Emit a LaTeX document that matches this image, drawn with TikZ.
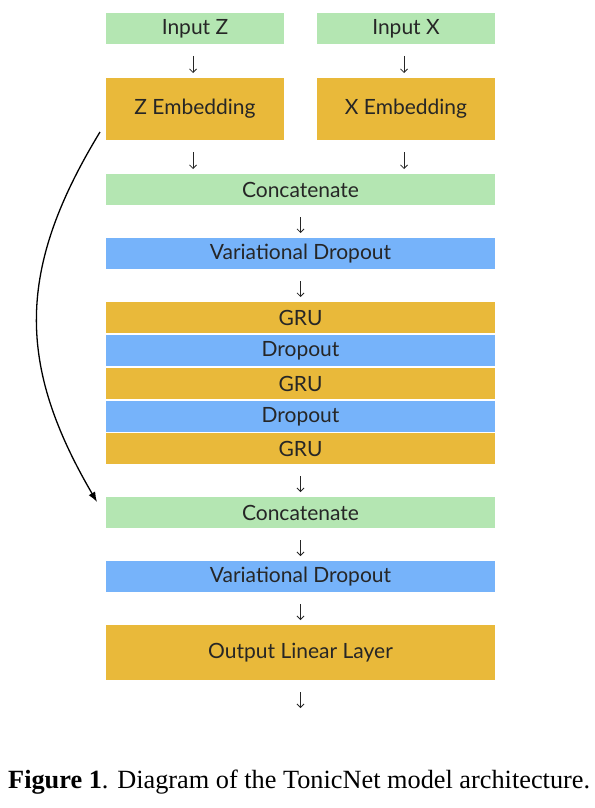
\documentclass[tikz,border=0pt]{standalone}
\usepackage{fontspec}
\setmainfont{Liberation Serif}
\newfontfamily\boxfont{Lato}
\usetikzlibrary{arrows.meta}
\definecolor{cgreen}{HTML}{B4E6B2}
\definecolor{corange}{HTML}{E9B93A}
\definecolor{cblue}{HTML}{76B3FA}
\begin{document}
\begin{tikzpicture}[x=1pt,y=-1pt,
  blk/.style={anchor=north west,inner sep=0pt,outer sep=0pt,
    font=\boxfont\fontsize{21}{23}\selectfont,text=black!85},
  gbox/.style={blk,fill=cgreen},
  obox/.style={blk,fill=corange},
  bbox/.style={blk,fill=cblue},
  narrow/.style={minimum width=178pt},
  wide/.style={minimum width=389pt},
  arr/.style={line width=0.8pt,draw=black!85,-{Straight Barb[length=3.5pt,width=7pt]},
    shorten <=12pt,shorten >=5pt},
  skip/.style={line width=1.3pt,-{Latex[length=10pt,width=7.5pt]}}]
\useasboundingbox (0,0) rectangle (594,808);
% top row
\node[gbox,narrow,minimum height=31pt] (inz) at (106,13) {Input Z};
\node[gbox,narrow,minimum height=31pt] (inx) at (317,13) {Input X};
\node[obox,narrow,minimum height=62pt] (zemb) at (106,78) {Z Embedding};
\node[obox,narrow,minimum height=62pt] (xemb) at (317,78) {X Embedding};
% main column
\node[gbox,wide,minimum height=31pt] (cat1) at (106,174) {Concatenate};
\node[bbox,wide,minimum height=31pt] (vd1) at (106,238) {Variational Dropout};
\node[obox,wide,minimum height=31pt] (gru1) at (106,302) {GRU};
\node[bbox,wide,minimum height=31pt] (do1) at (106,335) {Dropout};
\node[obox,wide,minimum height=31pt] (gru2) at (106,368) {GRU};
\node[bbox,wide,minimum height=31pt] (do2) at (106,401) {Dropout};
\node[obox,wide,minimum height=31pt] (gru3) at (106,433) {GRU};
\node[gbox,wide,minimum height=31pt] (cat2) at (106,497) {Concatenate};
\node[bbox,wide,minimum height=31pt] (vd2) at (106,561) {Variational Dropout};
\node[obox,wide,minimum height=55pt] (outl) at (106,625) {Output Linear Layer};
\coordinate (endpt) at (300.5,713);
% short arrows
\draw[arr] ([xshift=-2pt]inz.south) -- ([xshift=-2pt]zemb.north);
\draw[arr] ([xshift=-2pt]inx.south) -- ([xshift=-2pt]xemb.north);
\draw[arr] ([xshift=-2pt]zemb.south) -- ([xshift=-2pt]zemb.south |- cat1.north);
\draw[arr] ([xshift=-2pt]xemb.south) -- ([xshift=-2pt]xemb.south |- cat1.north);
\draw[arr] (cat1.south) -- (vd1.north);
\draw[arr] (vd1.south) -- (gru1.north);
\draw[arr] (gru3.south) -- (cat2.north);
\draw[arr] (cat2.south) -- (vd2.north);
\draw[arr] (vd2.south) -- (outl.north);
\draw[arr] (outl.south) -- (endpt);
% skip connection
\coordinate (skipA) at ([shift={(-6pt,8pt)}]zemb.south west);
\coordinate (skipB) at ([shift={(-9pt,-5pt)}]cat2.north west);
\draw[skip] (skipA) .. controls (16,270) and (17,365) .. (skipB);
% caption
\node[anchor=base west,inner sep=0pt,font=\fontsize{26.3}{28}\selectfont] (cap) at (8,788)
  {\textbf{Figure 1}. Diagram of the TonicNet model architecture.};
\end{tikzpicture}
\end{document}
